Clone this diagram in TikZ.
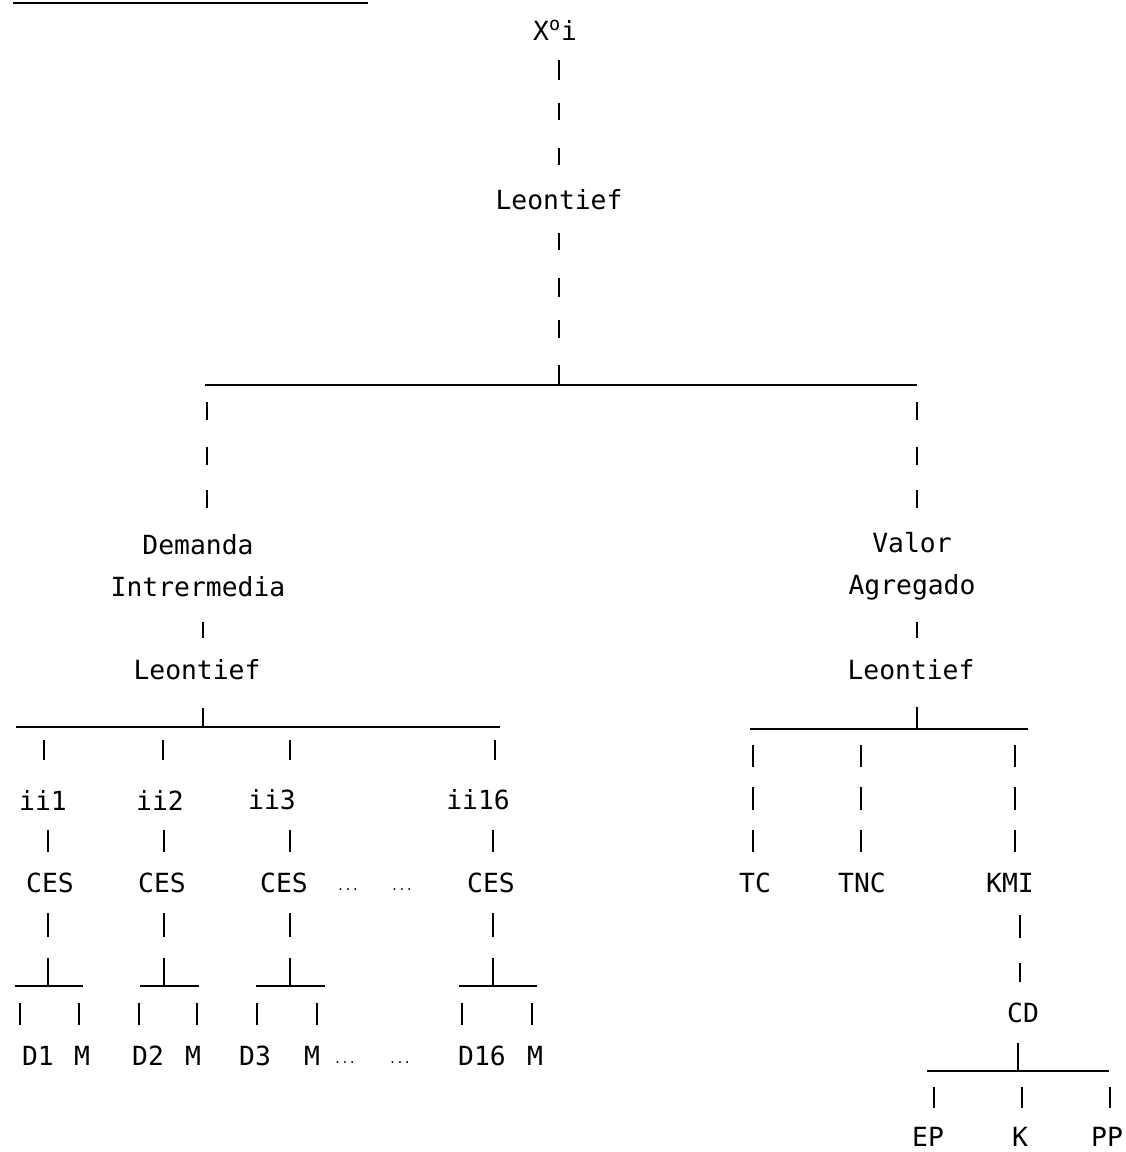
\documentclass[tikz,border=0pt]{standalone}
\usepackage{fontspec}
\setmainfont{DejaVu Sans Mono}
\usepackage{tikz}
\newcommand{\vtick}[3]{\draw[line width=1pt] (#1,#2)--(#1,#3);}
\newcommand{\drawrule}{\draw[line width=1.1pt]}
\newcommand{\lbl}[4]{\node[lbl] (#1) at (#2,#3) {#4};}
\newcommand{\smalldots}{{\fontsize{7}{7}\selectfont ...}}
\tikzset{lbl/.style={inner sep=0pt,align=center,font=\fontsize{15}{24}\selectfont}}

\begin{document}
\begin{tikzpicture}[x=0.02cm,y=-0.02cm]
\useasboundingbox (0,0) rectangle (1125,1152);
\drawrule (13,3)--(368,3);
% top
\lbl{xoi}{555}{30}{X\textsuperscript{o}i}
\foreach \a/\b in {60/80,103/120,148/165}{\vtick{559}{\a}{\b}}
\lbl{leo}{559}{200}{Leontief}
\foreach \a/\b in {233/250,278/297,320/338,365/385}{\vtick{559}{\a}{\b}}
\drawrule (205,385)--(917,385);
\foreach \a/\b in {402/420,447/465,490/508}{\vtick{207}{\a}{\b}\vtick{917}{\a}{\b}}
\lbl{dem}{198}{566}{Demanda\\Intrermedia}
\lbl{val}{912}{566}{Valor\\Agregado}
\vtick{203}{622}{638}\vtick{917}{622}{638}
\lbl{leoL}{197}{670}{Leontief}
\lbl{leoR}{911}{670}{Leontief}
\vtick{203}{708}{727}\vtick{917}{707}{729}
% left branch
\drawrule (16,727)--(500,727);
\foreach \x in {44,163,290,495}{\vtick{\x}{740}{760}}
\lbl{ii1}{43}{800}{ii1}\lbl{ii2}{160}{800}{ii2}\lbl{ii3}{272}{800}{ii3}\lbl{ii16}{478}{800}{ii16}
\foreach \x in {48,164,290,493}{\vtick{\x}{830}{852}\vtick{\x}{913}{937}\vtick{\x}{958}{986}}
\lbl{ces1}{50}{883}{CES}\lbl{ces2}{162}{883}{CES}\lbl{ces3}{284}{883}{CES}\lbl{ces16}{491}{883}{CES}
\lbl{dotsA}{348}{890}{\smalldots}\lbl{dotsB}{402}{890}{\smalldots}
\drawrule (15,986)--(83,986);\drawrule (140,986)--(199,986);
\drawrule (256,986)--(325,986);\drawrule (459,986)--(537,986);
\foreach \x in {20,79,139,197,257,317,462,532}{\vtick{\x}{1003}{1025}}
\lbl{d1}{38}{1056}{D1}\lbl{m1}{82}{1056}{M}
\lbl{d2}{148}{1056}{D2}\lbl{m2}{193}{1056}{M}
\lbl{d3}{255}{1056}{D3}\lbl{m3}{312}{1056}{M}
\lbl{dotsC}{345}{1063}{\smalldots}\lbl{dotsD}{400}{1063}{\smalldots}
\lbl{d16}{482}{1056}{D16}\lbl{m16}{535}{1056}{M}
% right branch
\drawrule (750,729)--(1028,729);
\foreach \x in {753,861,1015}{\foreach \a/\b in {745/767,787/810,830/852}{\vtick{\x}{\a}{\b}}}
\lbl{tc}{755}{883}{TC}\lbl{tnc}{862}{883}{TNC}\lbl{kmi}{1010}{883}{KMI}
\vtick{1020}{915}{938}\vtick{1020}{963}{982}
\lbl{cd}{1023}{1013}{CD}
\vtick{1018}{1043}{1071}
\drawrule (927,1071)--(1109,1071);
\foreach \x in {934,1022,1110}{\vtick{\x}{1087}{1108}}
\lbl{ep}{928}{1137}{EP}\lbl{k}{1020}{1137}{K}\lbl{pp}{1107}{1137}{PP}
\end{tikzpicture}
\end{document}
